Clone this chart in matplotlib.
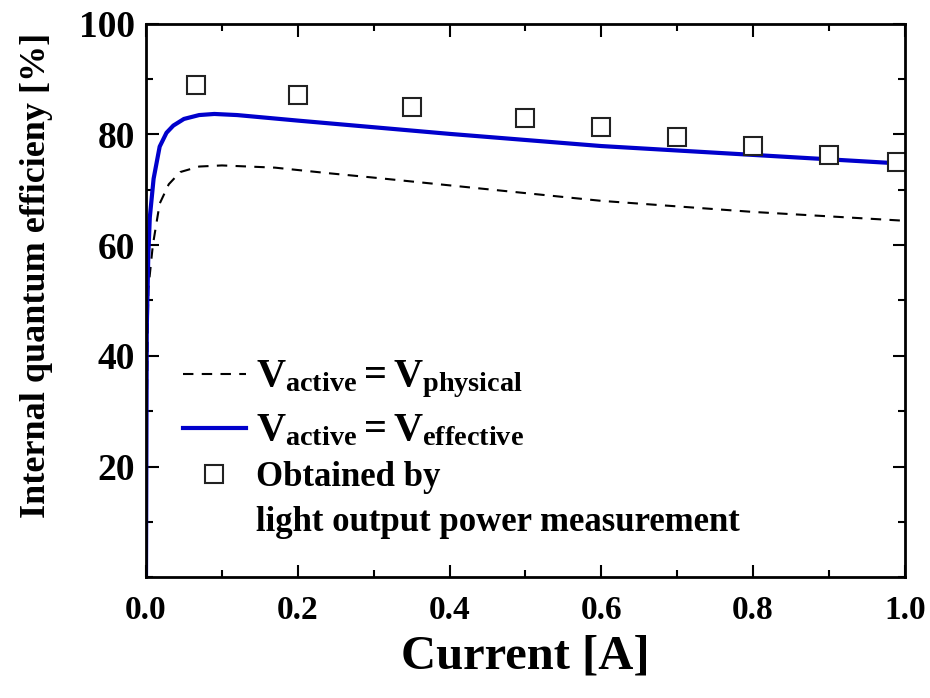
import matplotlib.pyplot as plt
from matplotlib.ticker import MultipleLocator

plt.rcParams['font.family'] = 'Liberation Serif'
plt.rcParams['font.weight'] = 'bold'
plt.rcParams['axes.labelweight'] = 'bold'
plt.rcParams['mathtext.fontset'] = 'custom'
plt.rcParams['mathtext.rm'] = 'Liberation Serif:bold'
plt.rcParams['mathtext.bf'] = 'Liberation Serif:bold'
plt.rcParams['mathtext.it'] = 'Liberation Serif:bold'

# V_active = V_effective (blue solid)
eff_x = [0, 0.001, 0.003, 0.005, 0.01, 0.018, 0.027, 0.036, 0.05, 0.07, 0.09,
         0.12, 0.2, 0.3, 0.4, 0.5, 0.6, 0.7, 0.8, 0.9, 1.0]
eff_y = [0, 45, 58, 65, 72, 77.8, 80.3, 81.6, 82.8, 83.5, 83.7,
         83.5, 82.5, 81.3, 80.1, 79.0, 77.9, 77.1, 76.3, 75.5, 74.7]

# V_active = V_physical (black dashed)
phy_x = [0, 0.001, 0.003, 0.009, 0.018, 0.03, 0.045, 0.07, 0.1, 0.17, 0.24,
         0.3, 0.4, 0.5, 0.6, 0.7, 0.8, 0.9, 1.0]
phy_y = [0, 30, 52, 60, 67.5, 71, 73.2, 74.2, 74.4, 74.0, 73.0,
         72.2, 70.8, 69.4, 68.0, 67.0, 66.0, 65.2, 64.4]

# measured (open squares)
meas_x = [0.066, 0.2, 0.35, 0.5, 0.6, 0.7, 0.8, 0.9, 0.99]
meas_y = [89.0, 87.2, 85.0, 82.9, 81.3, 79.6, 78.0, 76.2, 75.1]

fig = plt.figure(figsize=(9.3, 6.98), dpi=100)
ax = fig.add_axes([0.157, 0.173, 0.816, 0.793])

ax.plot(phy_x, phy_y, color='black', linestyle=(0, (5, 4)), linewidth=1.5,
        label=r'$\mathbf{V_{active} = V_{physical}}$')
ax.plot(eff_x, eff_y, color='#0000cc', linewidth=3,
        label=r'$\mathbf{V_{active} = V_{effective}}$')
ax.plot(meas_x, meas_y, linestyle='none', marker='s', markersize=13.5,
        markerfacecolor='white', markeredgecolor='#222222', markeredgewidth=1.5,
        label='Obtained by')
# second line of the marker label, no handle
ax.plot([], [], linestyle='none', label='light output power measurement')

ax.set_xlim(0, 1.0)
ax.set_ylim(0, 100)
ax.xaxis.set_major_locator(MultipleLocator(0.2))
ax.xaxis.set_minor_locator(MultipleLocator(0.1))
ax.set_yticks([20, 40, 60, 80, 100])
ax.yaxis.set_minor_locator(MultipleLocator(10))
ax.xaxis.set_major_formatter(plt.FuncFormatter(lambda v, p: f'{v:.1f}'))
ax.tick_params(which='both', direction='in', top=True, right=True, width=1.5)
ax.tick_params(which='major', length=9)
ax.tick_params(which='minor', length=5)
ax.tick_params(axis='x', which='major', labelsize=24, pad=13)
ax.tick_params(axis='y', which='major', labelsize=27, pad=8)
for s in ax.spines.values():
    s.set_linewidth(2)

ax.set_xlabel('Current [A]', fontsize=35, labelpad=6)
ax.set_ylabel('Internal quantum efficieny [%]', fontsize=26)
ax.yaxis.set_label_coords(-0.122, 0.545)

leg = ax.legend(loc='lower left', bbox_to_anchor=(0.049, 0.07), frameon=False,
                fontsize=25, handlelength=1.8, handletextpad=0.3,
                labelspacing=0.34, borderpad=0, borderaxespad=0)
for t in leg.get_texts()[:2]:
    t.set_fontsize(29)

fig.savefig('out.png', dpi=100)
